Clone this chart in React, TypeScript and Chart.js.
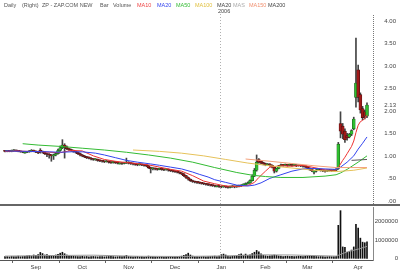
import React, { useEffect, useRef } from 'react';
import { Chart, registerables } from 'chart.js';
Chart.register(...registerables);

const FONT = 'Liberation Sans, Arial, Helvetica, sans-serif';

// ---- categories: trading days ----
const START = '2005-08-12';
const END = '2006-04-07';
const HOLIDAYS = ['2005-09-05', '2005-11-24', '2005-12-26', '2006-01-02', '2006-01-16', '2006-02-20'];
const MONTH_NAMES = ['Jan', 'Feb', 'Mar', 'Apr', 'May', 'Jun', 'Jul', 'Aug', 'Sep', 'Oct', 'Nov', 'Dec'];

function tradingDays(): string[] {
  const out: string[] = [];
  const d = new Date(START + 'T00:00:00Z');
  const end = new Date(END + 'T00:00:00Z');
  while (d <= end) {
    const iso = d.toISOString().slice(0, 10);
    const wd = d.getUTCDay();
    if (wd !== 0 && wd !== 6 && !HOLIDAYS.includes(iso)) out.push(iso);
    d.setUTCDate(d.getUTCDate() + 1);
  }
  return out;
}
const dates = tradingDays();

// ---- price data (OHLC) ----
const opens = [
  1.11, 1.10, 1.11, 1.10, 1.11, 1.12, 1.11, 1.10, 1.09, 1.08,
  1.08, 1.09, 1.10, 1.12, 1.10, 1.08, 1.12, 1.10, 1.08, 1.05,
  1.03, 1.02, 1.00, 1.02, 1.05, 1.12, 1.18, 1.24, 1.20, 1.16,
  1.14, 1.12, 1.10, 1.08, 1.05, 1.02, 1.00, 0.98, 0.96, 0.95,
  0.93, 0.91, 0.92, 0.90, 0.89, 0.88, 0.87, 0.88, 0.86, 0.85,
  0.86, 0.85, 0.84, 0.84, 0.83, 0.84, 0.86, 0.84, 0.83, 0.82,
  0.81, 0.80, 0.81, 0.80, 0.79, 0.78, 0.74, 0.71, 0.72, 0.71,
  0.70, 0.71, 0.70, 0.69, 0.70, 0.68, 0.67, 0.66, 0.65, 0.64,
  0.62, 0.60, 0.56, 0.52, 0.48, 0.45, 0.43, 0.42, 0.41, 0.40,
  0.39, 0.38, 0.37, 0.36, 0.35, 0.34, 0.33, 0.33, 0.32, 0.31,
  0.32, 0.31, 0.30, 0.31, 0.32, 0.31, 0.32, 0.33, 0.35, 0.36,
  0.38, 0.40, 0.45, 0.55, 0.68, 0.92, 0.88, 0.85, 0.83, 0.80,
  0.82, 0.79, 0.75, 0.66, 0.72, 0.78, 0.80, 0.79, 0.80, 0.79,
  0.80, 0.79, 0.80, 0.78, 0.79, 0.78, 0.77, 0.76, 0.73, 0.70,
  0.66, 0.66, 0.68, 0.69, 0.68, 0.67, 0.66, 0.67, 0.68, 0.67,
  0.68, 0.72, 1.72, 1.66, 1.55, 1.45, 1.42, 1.48, 1.60, 2.30,
  2.91, 2.36, 2.05, 1.98, 1.88,
];
const highs = [
  1.12, 1.12, 1.12, 1.13, 1.14, 1.13, 1.12, 1.11, 1.10, 1.09,
  1.10, 1.12, 1.14, 1.13, 1.11, 1.09, 1.16, 1.11, 1.09, 1.06,
  1.05, 1.03, 1.04, 1.07, 1.15, 1.22, 1.36, 1.27, 1.22, 1.17,
  1.15, 1.13, 1.11, 1.09, 1.06, 1.03, 1.01, 0.99, 0.98, 0.96,
  0.94, 0.94, 0.93, 0.91, 0.90, 0.89, 0.90, 0.89, 0.87, 0.88,
  0.87, 0.86, 0.85, 0.85, 0.86, 0.95, 0.87, 0.85, 0.84, 0.83,
  0.82, 0.83, 0.82, 0.81, 0.80, 0.79, 0.75, 0.74, 0.73, 0.72,
  0.73, 0.72, 0.71, 0.72, 0.71, 0.69, 0.68, 0.67, 0.66, 0.65,
  0.63, 0.61, 0.57, 0.53, 0.49, 0.46, 0.44, 0.43, 0.42, 0.41,
  0.40, 0.39, 0.38, 0.37, 0.36, 0.35, 0.34, 0.34, 0.33, 0.34,
  0.33, 0.32, 0.33, 0.34, 0.33, 0.34, 0.35, 0.36, 0.38, 0.40,
  0.42, 0.47, 0.58, 0.72, 1.02, 0.94, 0.89, 0.86, 0.84, 0.83,
  0.83, 0.80, 0.76, 0.73, 0.79, 0.82, 0.81, 0.82, 0.81, 0.82,
  0.81, 0.81, 0.81, 0.80, 0.80, 0.79, 0.78, 0.77, 0.74, 0.71,
  0.68, 0.70, 0.71, 0.70, 0.69, 0.68, 0.69, 0.70, 0.69, 0.70,
  0.72, 1.30, 1.98, 1.72, 1.60, 1.50, 1.50, 1.58, 1.86, 3.62,
  3.02, 2.40, 2.10, 2.02, 2.18,
];
const lows = [
  1.09, 1.09, 1.09, 1.09, 1.10, 1.10, 1.09, 1.08, 1.07, 1.06,
  1.07, 1.08, 1.09, 1.09, 1.07, 1.05, 1.06, 1.06, 1.03, 0.98,
  0.95, 0.88, 0.92, 1.00, 1.04, 1.10, 1.16, 0.95, 1.14, 1.12,
  1.10, 1.08, 1.06, 1.03, 1.00, 0.98, 0.96, 0.94, 0.93, 0.91,
  0.90, 0.90, 0.88, 0.87, 0.86, 0.85, 0.86, 0.84, 0.83, 0.84,
  0.83, 0.82, 0.82, 0.81, 0.82, 0.83, 0.82, 0.81, 0.80, 0.79,
  0.78, 0.79, 0.78, 0.77, 0.76, 0.72, 0.62, 0.69, 0.69, 0.68,
  0.69, 0.68, 0.67, 0.68, 0.66, 0.65, 0.64, 0.63, 0.62, 0.60,
  0.58, 0.54, 0.50, 0.46, 0.43, 0.41, 0.40, 0.39, 0.38, 0.37,
  0.36, 0.35, 0.34, 0.33, 0.32, 0.31, 0.31, 0.30, 0.29, 0.30,
  0.29, 0.28, 0.29, 0.30, 0.29, 0.30, 0.31, 0.32, 0.34, 0.35,
  0.37, 0.39, 0.44, 0.54, 0.66, 0.84, 0.82, 0.80, 0.78, 0.79,
  0.77, 0.73, 0.62, 0.64, 0.71, 0.77, 0.77, 0.78, 0.77, 0.78,
  0.77, 0.78, 0.76, 0.77, 0.76, 0.75, 0.74, 0.71, 0.68, 0.65,
  0.60, 0.64, 0.67, 0.66, 0.65, 0.64, 0.65, 0.66, 0.65, 0.66,
  0.67, 0.70, 1.40, 1.38, 1.30, 1.35, 1.40, 1.45, 1.58, 2.08,
  2.20, 1.95, 1.80, 1.82, 1.85,
];
const closes = [
  1.10, 1.11, 1.10, 1.11, 1.12, 1.11, 1.10, 1.09, 1.08, 1.08,
  1.09, 1.10, 1.12, 1.10, 1.08, 1.07, 1.10, 1.08, 1.05, 1.03,
  1.02, 1.00, 1.02, 1.05, 1.12, 1.18, 1.24, 1.20, 1.16, 1.14,
  1.12, 1.10, 1.08, 1.05, 1.02, 1.00, 0.98, 0.96, 0.95, 0.93,
  0.92, 0.92, 0.90, 0.89, 0.88, 0.87, 0.88, 0.86, 0.85, 0.86,
  0.85, 0.84, 0.84, 0.83, 0.84, 0.86, 0.84, 0.83, 0.82, 0.81,
  0.80, 0.81, 0.80, 0.79, 0.78, 0.74, 0.71, 0.72, 0.71, 0.70,
  0.71, 0.70, 0.69, 0.70, 0.68, 0.67, 0.66, 0.65, 0.64, 0.62,
  0.60, 0.56, 0.52, 0.48, 0.45, 0.43, 0.42, 0.41, 0.40, 0.39,
  0.38, 0.37, 0.36, 0.35, 0.34, 0.33, 0.33, 0.32, 0.31, 0.32,
  0.31, 0.30, 0.31, 0.32, 0.31, 0.32, 0.33, 0.35, 0.36, 0.38,
  0.40, 0.45, 0.55, 0.68, 0.86, 0.86, 0.84, 0.82, 0.80, 0.82,
  0.79, 0.75, 0.66, 0.72, 0.78, 0.80, 0.79, 0.80, 0.79, 0.80,
  0.79, 0.80, 0.78, 0.79, 0.78, 0.77, 0.76, 0.73, 0.70, 0.67,
  0.66, 0.68, 0.69, 0.68, 0.67, 0.66, 0.67, 0.68, 0.67, 0.68,
  0.70, 1.26, 1.55, 1.48, 1.36, 1.40, 1.48, 1.56, 1.82, 2.62,
  2.30, 2.02, 1.85, 1.88, 2.13,
];
const volumes = [
  90000, 100000, 80000, 110000, 90000, 100000, 120000, 90000, 100000, 110000,
  130000, 150000, 120000, 180000, 160000, 200000, 320000, 260000, 180000, 200000,
  150000, 160000, 140000, 180000, 220000, 280000, 330000, 250000, 180000, 140000,
  120000, 110000, 100000, 90000, 100000, 110000, 90000, 100000, 80000, 90000,
  100000, 90000, 80000, 100000, 90000, 80000, 90000, 100000, 110000, 90000,
  80000, 90000, 100000, 90000, 110000, 160000, 100000, 90000, 80000, 90000,
  100000, 80000, 90000, 70000, 80000, 120000, 100000, 90000, 80000, 70000,
  80000, 90000, 70000, 80000, 90000, 100000, 80000, 90000, 100000, 110000,
  120000, 160000, 200000, 280000, 180000, 120000, 100000, 90000, 80000, 90000,
  100000, 80000, 90000, 100000, 110000, 120000, 90000, 120000, 200000, 230000,
  180000, 120000, 100000, 110000, 120000, 150000, 200000, 240000, 170000, 230000,
  160000, 190000, 260000, 330000, 430000, 350000, 240000, 160000, 140000, 120000,
  130000, 150000, 180000, 160000, 130000, 120000, 100000, 110000, 120000, 100000,
  110000, 90000, 100000, 120000, 110000, 100000, 110000, 130000, 150000, 120000,
  110000, 100000, 90000, 100000, 90000, 80000, 90000, 100000, 90000, 100000,
  110000, 1800000, 2600000, 620000, 600000, 330000, 380000, 450000, 620000, 1850000,
  1650000, 1100000, 880000, 850000, 900000,
];

// ---- moving averages: [bar index, value] ----
const ma10 = [[0,1.10],[5,1.11],[10,1.10],[15,1.10],[20,1.08],[25,1.07],[30,1.12],[35,1.11],[40,1.00],[45,0.92],[50,0.88],[55,0.85],[60,0.83],[65,0.80],[70,0.75],[75,0.70],[80,0.66],[85,0.56],[90,0.44],[95,0.38],[100,0.33],[105,0.32],[110,0.34],[113,0.41],[115,0.52],[118,0.66],[120,0.75],[125,0.78],[130,0.77],[135,0.79],[140,0.74],[145,0.69],[150,0.68],[151,0.74],[152,0.82],[153,0.90],[154,0.97],[155,1.05],[156,1.13],[157,1.21],[158,1.33],[159,1.52],[160,1.68],[161,1.76],[162,1.79],[163,1.83],[164,1.91]];
const ma20 = [[0,1.11],[10,1.10],[20,1.09],[25,1.08],[30,1.09],[35,1.09],[41,1.06],[45,1.02],[50,0.96],[55,0.90],[60,0.86],[66,0.82],[70,0.79],[75,0.75],[80,0.71],[85,0.64],[88,0.59],[92,0.53],[95,0.47],[100,0.41],[105,0.35],[110,0.33],[113,0.35],[116,0.40],[120,0.50],[125,0.58],[130,0.66],[135,0.71],[140,0.72],[145,0.71],[150,0.70],[152,0.75],[155,0.86],[158,1.00],[160,1.15],[162,1.28],[164,1.42]];
const ma50 = [[8,1.27],[15,1.24],[25,1.21],[35,1.17],[45,1.13],[55,1.08],[65,1.02],[75,0.95],[85,0.86],[95,0.74],[105,0.63],[112,0.57],[118,0.54],[125,0.52],[135,0.52],[145,0.55],[150,0.58],[152,0.62],[155,0.70],[160,0.86],[164,1.00]];
const ma100 = [[58,1.13],[70,1.10],[80,1.06],[90,1.00],[100,0.92],[110,0.84],[120,0.78],[130,0.73],[140,0.68],[150,0.65],[158,0.68],[164,0.73]];
const ma150 = [[109,0.93],[120,0.88],[130,0.83],[140,0.78],[150,0.74],[164,0.74]];
const ma200 = [[157,0.90],[164,0.92]];
const volMa = [[0,120000],[20,150000],[40,170000],[60,110000],[80,100000],[100,130000],[115,190000],[130,180000],[150,120000],[155,350000],[160,500000],[164,650000]];

const PRICE_TICKS = [0, 0.5, 1, 1.5, 2, 2.13, 2.5, 3, 3.5, 4];
const VOLUME_TICKS = [0, 1000000, 2000000];

const COLORS = {
  ma10: '#ee3333', ma20: '#3344ee', ma50: '#33bb33', ma100: '#e6c25a',
  ma150: '#f4a07a', ma200: '#555555', up: '#2fbf2f', down: '#a01818', wick: '#444444',
};

const LEGEND = [
  { t: 'Daily', x: 4, c: '#555' }, { t: '(Right)', x: 22, c: '#555' },
  { t: 'ZP - ZAP.COM NEW', x: 42, c: '#555' }, { t: 'Bar', x: 100, c: '#555' },
  { t: 'Volume', x: 113, c: '#555' }, { t: 'MA10', x: 137, c: '#ee4444' },
  { t: 'MA20', x: 157, c: '#3344ee' }, { t: 'MA50', x: 176, c: '#33bb33' },
  { t: 'MA100', x: 195, c: '#e0c040' }, { t: 'MA20', x: 217, c: '#444' },
  { t: 'MAS', x: 233, c: '#aaa' }, { t: 'MA150', x: 249, c: '#f09070' },
  { t: 'MA200', x: 268, c: '#444' },
];

const X_MIN = -2.27;
const X_MAX = 166.72;
const YEAR_BREAK = 97.5;

const monthStarts: { index: number; label: string }[] = [];
dates.forEach((d, i) => {
  const m = Number(d.slice(5, 7)) - 1;
  if (i > 0 && Number(dates[i - 1].slice(5, 7)) - 1 !== m) monthStarts.push({ index: i, label: MONTH_NAMES[m] });
});

const toPts = (arr: number[][]) => arr.map(([x, y]) => ({ x, y }));
const maLine = (arr: number[][], color: string) => ({
  type: 'line' as const, data: toPts(arr), borderColor: color, borderWidth: 1,
  pointRadius: 0, tension: 0, order: 0,
});

function fmtPrice(v: number) {
  const s = v.toFixed(2);
  return v < 1 ? s.slice(1) : s;
}

function drawAxisLabels(chart: any, ticks: number[], fmt: (v: number) => string, right: number) {
  const { ctx } = chart;
  const ys = chart.scales.y;
  ctx.save();
  ctx.fillStyle = '#444';
  ctx.font = `6px ${FONT}`;
  ctx.textAlign = 'right';
  ctx.textBaseline = 'middle';
  ticks.forEach(v => ctx.fillText(fmt(v), right, ys.getPixelForValue(v)));
  ctx.restore();
}

const priceDecor = {
  id: 'priceDecor',
  afterDraw(chart: any) {
    const { ctx, chartArea } = chart;
    const xs = chart.scales.x;
    ctx.save();
    const jx = Math.round(xs.getPixelForValue(YEAR_BREAK)) + 0.5;
    ctx.strokeStyle = '#b0b0b0';
    ctx.lineWidth = 1;
    ctx.setLineDash([1, 2]);
    ctx.beginPath();
    ctx.moveTo(jx, 14);
    ctx.lineTo(jx, chartArea.bottom);
    ctx.stroke();
    ctx.strokeStyle = '#777';
    ctx.setLineDash([1, 1]);
    ctx.beginPath();
    ctx.moveTo(chartArea.right + 0.5, chartArea.top + 4);
    ctx.lineTo(chartArea.right + 0.5, chartArea.bottom);
    ctx.stroke();
    ctx.setLineDash([]);
    ctx.strokeStyle = '#666';
    ctx.lineWidth = 2;
    ctx.beginPath();
    ctx.moveTo(0, chartArea.bottom + 1);
    ctx.lineTo(chart.width, chartArea.bottom + 1);
    ctx.stroke();
    ctx.restore();
    drawAxisLabels(chart, PRICE_TICKS, fmtPrice, 396);
  },
};

const volDecor = {
  id: 'volDecor',
  afterDraw(chart: any) {
    const { ctx, chartArea } = chart;
    const xs = chart.scales.x;
    ctx.save();
    const jx = Math.round(xs.getPixelForValue(YEAR_BREAK)) + 0.5;
    ctx.strokeStyle = '#b0b0b0';
    ctx.lineWidth = 1;
    ctx.setLineDash([1, 2]);
    ctx.beginPath();
    ctx.moveTo(jx, chartArea.top);
    ctx.lineTo(jx, chartArea.bottom);
    ctx.stroke();
    ctx.restore();
    drawAxisLabels(chart, VOLUME_TICKS, v => String(v), 398);
  },
};

export default function App() {
  const priceRef = useRef<HTMLCanvasElement>(null);
  const volRef = useRef<HTMLCanvasElement>(null);

  useEffect(() => {
    const idx = closes.map((_, i) => i);
    const isUp = idx.map(i => closes[i] >= opens[i]);

    const price = new Chart(priceRef.current as HTMLCanvasElement, {
      type: 'bar',
      data: {
        datasets: [
          maLine(ma200, COLORS.ma200),
          maLine(ma150, COLORS.ma150),
          maLine(ma100, COLORS.ma100),
          maLine(ma50, COLORS.ma50),
          maLine(ma20, COLORS.ma20),
          maLine(ma10, COLORS.ma10),
          {
            type: 'bar', stack: 'candle', order: 1,
            data: idx.map(i => ({ x: i, y: [Math.min(opens[i], closes[i]), Math.max(opens[i], closes[i])] })),
            backgroundColor: idx.map(i => (isUp[i] ? COLORS.up : COLORS.down)),
            borderColor: idx.map(i => (isUp[i] ? '#1d5a1d' : '#4a1010')),
            borderWidth: 0.6, borderSkipped: false, barThickness: 3, minBarLength: 1,
          },
          {
            type: 'bar', stack: 'candle', order: 2,
            data: idx.map(i => ({ x: i, y: [lows[i], highs[i]] })),
            backgroundColor: COLORS.wick, barThickness: 1, minBarLength: 1,
          },
        ] as any,
      },
      options: {
        animation: false, responsive: false,
        layout: { padding: { top: 11, bottom: 2, left: 0, right: 0 } },
        plugins: { legend: { display: false }, tooltip: { enabled: false } },
        scales: {
          x: { type: 'linear', min: X_MIN, max: X_MAX, display: false, offset: false },
          y: {
            position: 'right', min: -0.07, max: 4.22, stacked: false,
            afterFit: (s: any) => { s.width = 27; },
            grid: { display: false, drawTicks: false },
            border: { display: false },
            ticks: { display: false },
          },
        },
      } as any,
      plugins: [priceDecor],
    });

    const vol = new Chart(volRef.current as HTMLCanvasElement, {
      type: 'bar',
      data: {
        datasets: [
          { type: 'line', data: toPts(volMa), borderColor: '#999', borderWidth: 1, pointRadius: 0, order: 0 },
          { type: 'bar', data: idx.map(i => ({ x: i, y: volumes[i] })), backgroundColor: '#111', barThickness: 1, order: 1 },
        ] as any,
      },
      options: {
        animation: false, responsive: false,
        layout: { padding: { top: 3, bottom: 0, left: 0, right: 0 } },
        plugins: { legend: { display: false }, tooltip: { enabled: false } },
        scales: {
          x: {
            type: 'linear', min: X_MIN, max: X_MAX, offset: false,
            afterBuildTicks: (s: any) => { s.ticks = monthStarts.map(m => ({ value: m.index })); },
            afterFit: (s: any) => { s.height = 13; },
            grid: { drawOnChartArea: false, drawTicks: true, tickLength: 3, color: '#666' },
            border: { display: true, color: '#555' },
            ticks: {
              autoSkip: false, maxRotation: 0, padding: 1, color: '#444',
              font: { size: 6, family: FONT },
              callback: (v: any) => {
                const m = monthStarts.find(ms => ms.index === Number(v));
                return m ? m.label : '';
              },
            },
          },
          y: {
            position: 'right', min: -93000, max: 2800000,
            afterFit: (s: any) => { s.width = 27; },
            grid: { display: false, drawTicks: false },
            border: { display: true, color: '#888' },
            ticks: { display: false },
          },
        },
      } as any,
      plugins: [volDecor],
    });

    return () => { price.destroy(); vol.destroy(); };
  }, []);

  return (
    <div style={{ position: 'absolute', left: 0, top: 0, width: 400, height: 273, background: '#fff', overflow: 'hidden', fontFamily: FONT }}>
      <canvas ref={priceRef} width={400} height={206} style={{ position: 'absolute', left: 0, top: 0, display: 'block' }} />
      <canvas ref={volRef} width={400} height={69} style={{ position: 'absolute', left: 0, top: 204, display: 'block' }} />
      {LEGEND.map((l, i) => (
        <span key={i} style={{ position: 'absolute', left: l.x, top: 1, fontSize: 5.5, lineHeight: '8px', color: l.c, whiteSpace: 'nowrap' }}>{l.t}</span>
      ))}
      <span style={{ position: 'absolute', left: 218, top: 7, fontSize: 5.5, lineHeight: '8px', color: '#444' }}>2006</span>
    </div>
  );
}
